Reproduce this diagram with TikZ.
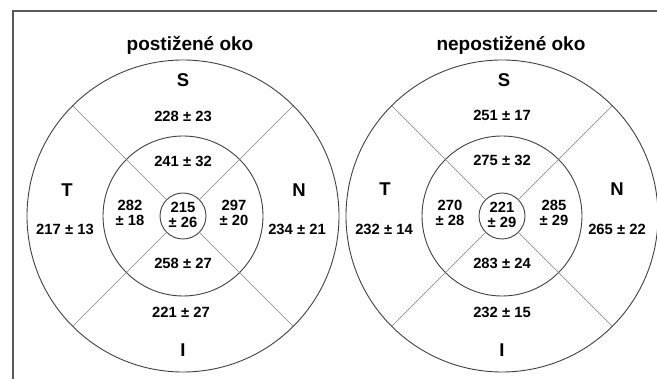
\documentclass[tikz,border=0pt]{standalone}
\usepackage{fontspec}
\setmainfont{Liberation Sans}
\usepackage{tikz}

\begin{document}
\begin{tikzpicture}[x=1pt, y=-1pt, thick,
	ring/.style = {draw=black!75, line width=0.9pt, circle, inner sep=0, outer sep=0},
	ray/.style = {draw=black!50, line width=0.6pt},
	val/.style = {font=\fontsize{14.8}{15.5}\selectfont\bfseries, align=center, inner sep=0},
	side/.style = {font=\fontsize{18.5}{20}\selectfont\bfseries, inner sep=0},
	head/.style = {font=\fontsize{19}{21}\selectfont\bfseries, inner sep=0}]
	\useasboundingbox (0,0) rectangle (657,379);
	\draw[black!65, line width=1.3pt] (13,379) -- (13,11) -- (657,11);
	% postizene oko
	\node[head] (t1) at (190,45) {postižené oko};
	\node[ring, minimum size=312pt] (out1) at (183,216) {};
	\node[ring, minimum size=160pt] (mid1) at (183,216) {};
	\node[ring, minimum size=46pt] (in1) at (183,216) {};
	\foreach \a in {45,135,225,315}
		\draw[ray] (in1.\a) -- (out1.\a);
	\node[side] (s1) at (183,80) {S};
	\node[side] (tt1) at (67,190) {T};
	\node[side] (n1) at (299,190) {N};
	\node[side] (i1) at (183,350) {I};
	\node[val] (so1) at (183,116) {228 ± 23};
	\node[val] (si1) at (183,161) {241 ± 32};
	\node[val] (to1) at (65,229) {217 ± 13};
	\node[val] (ti1) at (130,213) {282\\± 18};
	\node[val] (c1) at (183,215) {215\\± 26};
	\node[val] (ni1) at (234,213) {297\\± 20};
	\node[val] (no1) at (297,229) {234 ± 21};
	\node[val] (ii1) at (183,263) {258 ± 27};
	\node[val] (io1) at (181,312) {221 ± 27};
	% nepostizene oko
	\node[head] (t2) at (511,45) {nepostižené oko};
	\node[ring, minimum size=312pt] (out2) at (502,216) {};
	\node[ring, minimum size=160pt] (mid2) at (502,216) {};
	\node[ring, minimum size=46pt] (in2) at (502,216) {};
	\foreach \a in {45,135,225,315}
		\draw[ray] (in2.\a) -- (out2.\a);
	\node[side] (s2) at (504,80) {S};
	\node[side] (tt2) at (385,189) {T};
	\node[side] (n2) at (617,189) {N};
	\node[side] (i2) at (502,350) {I};
	\node[val] (so2) at (502,115) {251 ± 17};
	\node[val] (si2) at (502,160) {275 ± 32};
	\node[val] (to2) at (384,229) {232 ± 14};
	\node[val] (ti2) at (450,213) {270\\± 28};
	\node[val] (c2) at (502,215) {221\\± 29};
	\node[val] (ni2) at (554,213) {285\\± 29};
	\node[val] (no2) at (617,229) {265 ± 22};
	\node[val] (ii2) at (502,263) {283 ± 24};
	\node[val] (io2) at (502,312) {232 ± 15};
\end{tikzpicture}
\end{document}
